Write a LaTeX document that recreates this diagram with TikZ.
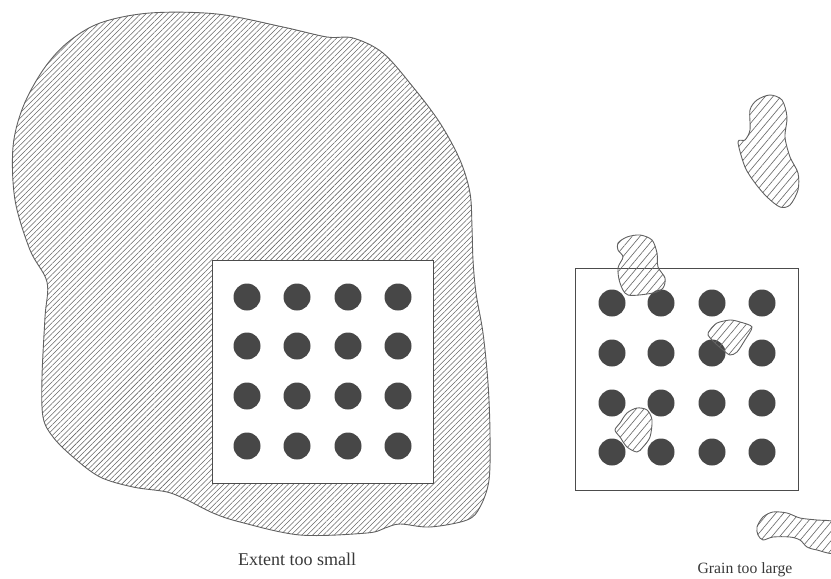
\documentclass[tikz,border=0pt]{standalone}
\usepackage{fontspec}
\setmainfont{Liberation Serif}
\usetikzlibrary{patterns.meta}
\begin{document}
\begin{tikzpicture}[x=1pt,y=-1pt,
  outl/.style={draw=black!62, line width=0.9pt},
  bighatch/.style={outl, pattern={Lines[angle=45,distance=3.8pt,line width=0.55pt]}, pattern color=black!60},
  smallhatch/.style={outl, pattern={Lines[angle=50,distance=6pt,line width=0.65pt]}, pattern color=black!58},
  frame/.style={draw=black!70, line width=0.9pt, fill=white},
  dot/.style={circle, fill=black!72, minimum size=27pt, inner sep=0pt},
  lbl/.style={text=black!78, inner sep=0pt}]
\useasboundingbox (0,0) rectangle (831,579);
\clip (0,0) rectangle (831,579);

% large region (extent)
\draw[bighatch] plot[smooth cycle, tension=0.55] coordinates {
 (150,13) (217,14) (283,27) (327,37) (353,38) (383,53) (413,87) (440,123)
 (460,160) (470,193) (472,227) (473,260) (476,293) (483,333) (488,383)
 (490,433) (489,480) (480,507) (467,520) (430,527) (400,524) (385,528)
 (367,533) (300,535) (240,522) (213,513) (187,500) (167,492) (133,487)
 (100,477) (73,457) (53,437) (43,417) (42,377) (45,317) (47,282)
 (30,250) (15,200) (13,147) (23,107) (43,70) (67,43) (100,23)};

% left frame and dots
\draw[frame] (212,260) rectangle (433,483);
\foreach \x [count=\i] in {247,297,348,398} {
  \foreach \y [count=\j] in {297,346,396,446} {
    \node[dot] (L\i\j) at (\x,\y) {};
  }
}

% right frame and dots
\draw[frame] (575,268) rectangle (798,490);
\foreach \x [count=\i] in {612,661,712,762} {
  \foreach \y [count=\j] in {303,353,403,452} {
    \node[dot] (R\i\j) at (\x,\y) {};
  }
}

% small grains
\draw[smallhatch] plot[smooth cycle, tension=0.5] coordinates {
 (618,243) (627,237) (640,235) (652,240) (657,253) (658,267) (665,278)
 (663,288) (653,293) (628,295) (620,283) (618,268) (623,257) (618,250)};
\draw[smallhatch] plot[smooth cycle, tension=0.45] coordinates {
 (710,330) (717,323) (730,320) (740,322) (752,327) (745,340) (737,352)
 (730,355) (723,350) (715,343) (708,335)};
\draw[smallhatch] plot[smooth cycle, tension=0.5] coordinates {
 (620,423) (627,413) (637,408) (647,410) (652,420) (650,437) (643,447)
 (637,452) (627,447) (620,437) (615,430)};
\draw[smallhatch] plot[smooth cycle, tension=0.5] coordinates {
 (750,110) (757,100) (770,95) (782,100) (787,117) (785,137) (790,157)
 (798,173) (798,190) (790,205) (780,207) (767,197) (755,183) (745,167)
 (738,142) (745,140) (750,130)};
\draw[smallhatch] plot[smooth cycle, tension=0.5] coordinates {
 (757,527) (763,517) (773,512) (787,513) (800,518) (817,520) (835,522)
 (845,535) (835,553) (817,550) (807,547) (800,540) (790,537) (773,537)
 (763,540) (758,535)};

% labels
\node[lbl, font=\fontsize{18}{20}\selectfont] (ext) at (297,559) {Extent too small};
\node[lbl, font=\fontsize{15.7}{18}\selectfont] (grain) at (745,570) {Grain too large};
\end{tikzpicture}
\end{document}
